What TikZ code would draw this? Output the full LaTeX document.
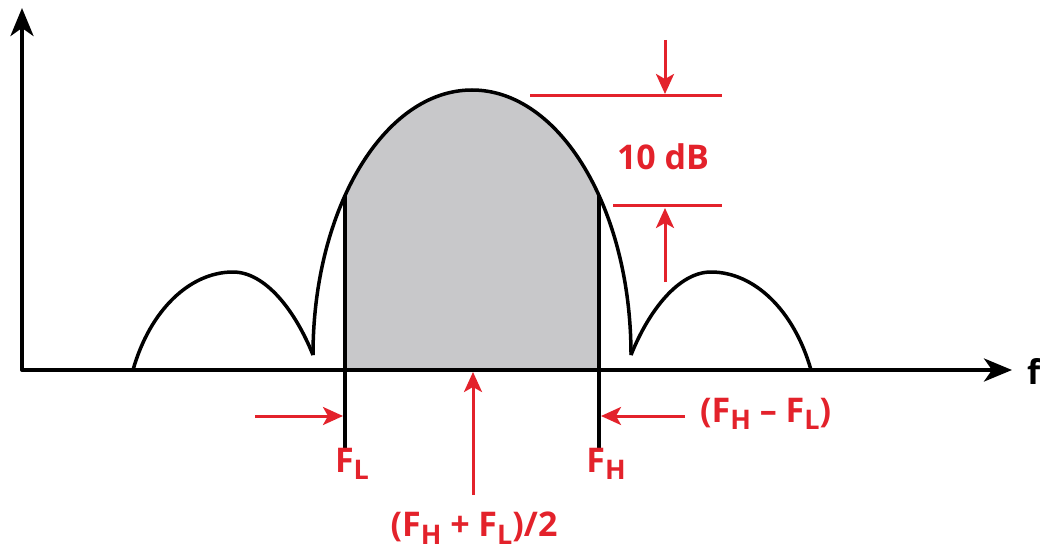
\documentclass[tikz,border=0pt]{standalone}
\usepackage{fontspec}
\setmainfont{Open Sans}
\usetikzlibrary{arrows.meta}
\definecolor{sigred}{HTML}{E3222B}
\definecolor{bandgray}{HTML}{C8C8CA}
\newcommand{\lowsub}[1]{\raisebox{-0.22em}{\fontsize{27}{30}\selectfont #1}}
\tikzset{
  >={Stealth[length=20pt, width=18pt, inset=5pt]},
  every picture/.style={line join=round},
  axis/.style={line width=4pt, {Stealth[length=28pt, width=23pt, inset=8pt]}-{Stealth[length=28pt, width=23pt, inset=8pt]}},
  lobe/.style={line width=3.5pt},
  cutoff/.style={line width=3.5pt},
  level/.style={sigred, line width=3pt},
  pointer/.style={sigred, line width=3pt, ->},
  lbl/.style={text=sigred, font=\fontsize{34}{40}\selectfont\bfseries, inner sep=0pt},
}

\begin{document}
\begin{tikzpicture}[x=1pt, y=1pt]
  \useasboundingbox (0,0) rectangle (1040,555);
  % ---------------- occupied band between F_L and F_H
  \fill[bandgray] (345,185) -- ([shift={(143:159 and 265)}]472,200)
    arc[start angle=143, end angle=37, x radius=159, y radius=265]
    -- (599,185) -- cycle;
  % ---------------- spectrum: side lobes and main lobe
  \draw[lobe] (133,185) .. controls (150,245) and (190,283) .. (233,283)
    .. controls (265,283) and (295,245) .. (313,200);
  \draw[lobe] (313,200) arc[start angle=180, end angle=0, x radius=159, y radius=265];
  \draw[lobe] (631,200) .. controls (649,245) and (679,283) .. (711,283)
    .. controls (754,283) and (794,245) .. (811,185);
  % band edges
  \draw[cutoff] (345,105) -- (345,359);
  \draw[cutoff] (599,105) -- (599,359);
  % axes
  \draw[axis] (22,547) -- (22,185) -- (1012,185);
  \node[font=\fontsize{34}{40}\selectfont\bfseries, anchor=west, inner sep=0pt] (f) at (1027,184) {f};
  % ---------------- 10 dB down points
  \draw[level] (530,459) -- (722,459);
  \draw[level] (613,349) -- (722,349);
  \draw[pointer] (665,515) -- (665,461);
  \draw[pointer] (665,273) -- (665,347);
  \node[lbl] (db) at (663,398) {10 dB};
  % ---------------- frequency labels
  \draw[pointer] (255,139) -- (343,139);
  \draw[pointer] (685,139) -- (601,139);
  \draw[pointer] (473,60) -- (473,183);
  \node[lbl] (fl) at (352,91) {F\lowsub{L}};
  \node[lbl] (fh) at (606,91) {F\lowsub{H}};
  \node[lbl, anchor=west] (bw) at (700,141) {(F\lowsub{H} – F\lowsub{L})};
  \node[lbl] (fc) at (474,27) {(F\lowsub{H} + F\lowsub{L})/2};
\end{tikzpicture}
\end{document}
